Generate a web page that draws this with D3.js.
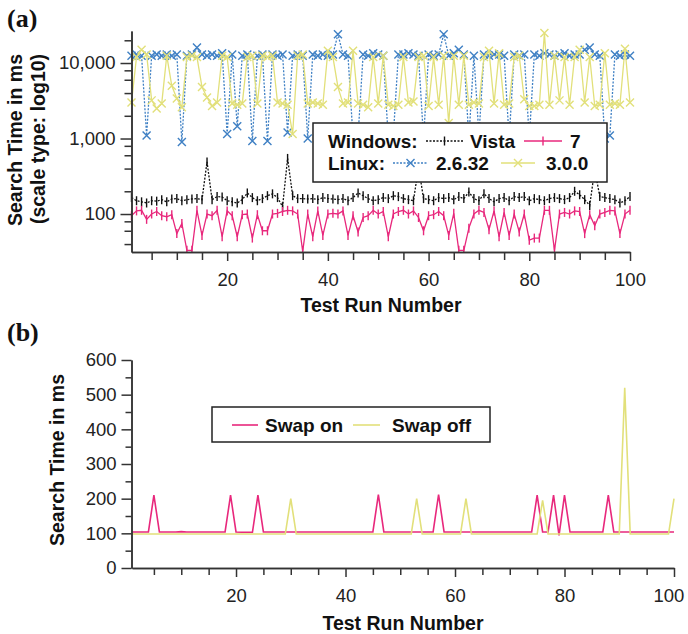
<!DOCTYPE html>
<html>
<head>
<meta charset="utf-8">
<script src="https://cdn.jsdelivr.net/npm/d3@7"></script>
<style>
  body { margin: 0; background: #fff; }
  svg { display: block; font-family: "Liberation Sans", Arial, sans-serif; }
  .axis path, .axis line { stroke: #333; stroke-width: 1.5; }
  .axis text { fill: #222; font-size: 18.5px; font-family: "Liberation Sans", Arial, sans-serif; }
  .title { font-weight: bold; font-size: 19.5px; fill: #111; }
  .leg { font-weight: bold; font-size: 19px; fill: #111; }
  .panel { font-family: "Liberation Serif", "Times New Roman", serif; font-weight: bold; font-size: 26px; fill: #111; }
</style>
</head>
<body>
<script>
// run numbers 1..100
var runs = d3.range(1, 101);

// panel (a): search time in ms, log scale
var vista = [165,150,145,140,150,148,155,145,158,160,
             150,155,158,160,155,490,155,170,168,150,
             145,140,155,190,165,150,160,175,185,165,
             125,545,175,160,160,158,160,155,165,160,
             158,155,160,150,165,190,175,160,150,155,
             165,160,175,170,160,155,150,420,160,155,
             150,165,160,165,155,170,160,195,160,150,
             185,160,145,160,165,150,170,165,170,150,
             160,155,150,160,165,160,155,165,200,180,
             155,130,390,170,165,160,155,140,150,170];
var win7 = [95,110,112,85,100,108,95,92,98,55,
            75,33,33,112,52,100,95,112,50,110,
            95,50,98,100,48,98,60,60,100,102,
            108,112,110,100,32,100,50,110,52,100,
            102,100,110,52,95,58,90,95,112,100,
            108,50,100,108,112,100,110,90,60,95,
            98,108,95,52,102,33,33,65,100,112,
            105,62,110,50,105,52,100,58,100,45,
            48,48,112,112,33,100,105,100,110,108,
            55,98,70,100,105,112,110,55,100,112];
var linux2632 = [12500,13000,12500,1100,12500,13000,12500,13000,12500,13000,
                 900,12500,13000,16000,13000,12500,13000,12500,13500,1150,
                 13000,1450,12500,13000,930,12500,13000,930,13000,12500,
                 13000,1200,12500,13000,12500,1000,13000,12500,13000,12500,
                 13000,24000,13000,12500,1000,1100,13000,12500,13500,13000,
                 12500,1000,1100,13000,13000,13500,13000,12500,1000,13000,
                 12500,13000,24000,12500,13500,15000,13000,1000,12500,1100,
                 13000,12500,13000,13000,12500,1000,13000,12500,13000,1000,
                 13000,12500,13500,13000,12500,13000,13500,12500,13000,13000,
                 15000,16000,13000,12500,1000,1100,13000,12500,13000,12500];
var linux300 = [3000,12000,15000,13000,3200,2500,2900,12500,5000,3400,
                2600,12000,12500,12000,4800,3500,2700,3000,12500,12000,
                2900,2800,2900,12000,12500,2900,12500,12000,12500,3000,
                2900,2800,1150,12500,13000,2900,3000,2900,2800,14500,
                12000,4800,2900,3000,14500,2900,2800,2600,12000,2900,
                12500,2800,2700,2800,12000,3000,3100,12000,12500,2700,
                12000,2800,12500,1600,12500,2800,12500,2800,3000,2900,
                12000,14500,2900,13500,2800,2900,12000,12500,3300,2700,
                2700,2800,25000,2800,12500,3200,12000,2800,12000,15000,
                3000,12000,2700,2800,13500,2800,2900,2800,15500,3000];
var logMajor = [100, 1000, 10000];
var logMinor = [40,60,80,200,400,600,800,2000,4000,6000,8000,20000];

// panel (b): search time in ms, linear
var swapOn = [104,104,104,104,210,104,104,104,104,105,
              104,104,104,104,104,104,104,104,210,104,
              103,103,103,210,104,104,104,104,104,104,
              104,104,104,104,104,104,104,104,104,104,
              104,104,104,104,104,212,104,104,104,104,
              104,104,104,104,104,104,212,104,104,104,
              104,104,104,104,104,104,104,104,104,104,
              104,104,104,104,210,104,104,210,94,210,
              104,104,104,104,104,104,104,210,104,104,
              104,104,104,104,104,104,104,104,104,104];
var swapOff = [98,98,98,98,98,98,98,98,98,98,
               98,98,98,98,98,98,98,98,98,98,
               98,98,98,98,98,98,98,98,98,200,
               98,98,98,98,98,98,98,98,98,98,
               98,98,98,98,98,98,98,98,98,98,
               98,98,200,98,98,98,98,98,98,98,
               98,200,98,98,98,98,98,98,98,98,
               98,98,98,98,98,195,98,98,98,98,
               98,98,98,98,98,98,98,98,98,98,
               520,98,98,98,98,98,98,98,98,200];
var linMajor = [0,100,200,300,400,500,600];
var linMinor = [50,150,250,350,450,550];

var xMajor = [20,40,60,80,100];
var xMinor = [5,10,15,25,30,35,45,50,55,65,70,75,85,90,95];

var PINK = "#e8287c", BLUE = "#3f80c4", YELLOW = "#e2e07a";

var svg = d3.select("body").append("svg").attr("width", 688).attr("height", 634);
svg.append("rect").attr("width", 688).attr("height", 634).attr("fill", "#fff");

// ---------- panel (a) ----------
var xa = d3.scaleLinear().domain([1, 100]).range([131.5, 630]);
var ya = d3.scaleLog().domain([31.4, 26550]).range([252, 31]);

svg.append("clipPath").attr("id", "clipA")
  .append("rect").attr("x", 126).attr("y", 20).attr("width", 520).attr("height", 232);

var ga = svg.append("g").attr("clip-path", "url(#clipA)");

function drawSeries(g, vals, color, dash, marker) {
  var pts = runs.map(function(r, i) { return [xa(r), ya(vals[i])]; });
  g.append("path")
    .attr("d", d3.line()(pts))
    .attr("fill", "none").attr("stroke", color).attr("stroke-width", 1.3)
    .attr("stroke-dasharray", dash);
  g.append("g").selectAll("path").data(pts).enter().append("path")
    .attr("transform", function(d) { return "translate(" + d[0] + "," + d[1] + ")"; })
    .attr("d", marker)
    .attr("fill", "none").attr("stroke", color).attr("stroke-width", 1.4);
}
var TICK = "M0,-4.5L0,4.5";
var CROSS = "M-4,-4L4,4M-4,4L4,-4";

drawSeries(ga, vista, "#111", "2,1.5", TICK);
drawSeries(ga, win7, PINK, null, TICK);
drawSeries(ga, linux2632, BLUE, "2,1.5", CROSS);
drawSeries(ga, linux300, YELLOW, null, CROSS);

// axes (a)
svg.append("g").attr("class", "axis").attr("transform", "translate(131.5,0)")
  .call(d3.axisLeft(ya).tickValues(logMajor).tickFormat(d3.format(",")).tickSize(11).tickSizeOuter(0).tickPadding(5));
svg.append("g").attr("class", "axis").attr("transform", "translate(131.5,0)")
  .call(d3.axisLeft(ya).tickValues(logMinor).tickFormat("").tickSize(7).tickSizeOuter(0));
svg.append("g").attr("class", "axis").attr("transform", "translate(0,252)")
  .call(d3.axisBottom(xa).tickValues(xMajor).tickSize(9).tickSizeOuter(0).tickPadding(12));
svg.append("g").attr("class", "axis").attr("transform", "translate(0,252)")
  .call(d3.axisBottom(xa).tickValues(xMinor).tickFormat("").tickSize(8).tickSizeOuter(0));

svg.append("text").attr("class", "title").attr("x", 381).attr("y", 312)
  .attr("text-anchor", "middle").text("Test Run Number");
svg.append("text").attr("class", "title").attr("text-anchor", "middle")
  .attr("transform", "translate(22,140) rotate(-90)").text("Search Time in ms");
svg.append("text").attr("class", "title").attr("text-anchor", "middle")
  .attr("transform", "translate(45,139) rotate(-90)").text("(scale type: log10)");
svg.append("text").attr("class", "panel").attr("x", 7).attr("y", 27).text("(a)");

// legend (a)
var la = svg.append("g");
la.append("rect").attr("x", 313).attr("y", 123).attr("width", 294).attr("height", 59)
  .attr("fill", "#fff").attr("stroke", "#222").attr("stroke-width", 1.5);
la.append("text").attr("class", "leg").attr("x", 328).attr("y", 148).text("Windows:");
la.append("text").attr("class", "leg").attr("x", 470).attr("y", 148).text("Vista");
la.append("text").attr("class", "leg").attr("x", 570).attr("y", 148).text("7");
la.append("text").attr("class", "leg").attr("x", 328).attr("y", 170).text("Linux:");
la.append("text").attr("class", "leg").attr("x", 436).attr("y", 170).text("2.6.32");
la.append("text").attr("class", "leg").attr("x", 546).attr("y", 170).text("3.0.0");
function legSample(g, x0, x1, y, color, dash, marker) {
  g.append("line").attr("x1", x0).attr("x2", x1).attr("y1", y).attr("y2", y)
    .attr("stroke", color).attr("stroke-width", 1.3).attr("stroke-dasharray", dash);
  g.append("path").attr("transform", "translate(" + ((x0 + x1) / 2) + "," + y + ")")
    .attr("d", marker).attr("fill", "none").attr("stroke", color).attr("stroke-width", 1.4);
}
legSample(la, 426, 463, 141, "#111", "2,1.5", TICK);
legSample(la, 524, 562, 141, PINK, null, TICK);
legSample(la, 393, 428, 163, BLUE, "2,1.5", CROSS);
legSample(la, 501, 535, 163, YELLOW, null, CROSS);

// ---------- panel (b) ----------
var xb = d3.scaleLinear().domain([1, 100]).range([132, 674]);
var yb = d3.scaleLinear().domain([0, 600]).range([568, 360]);

var lineB = d3.line().x(function(d) { return xb(d[0]); }).y(function(d) { return yb(d[1]); });
svg.append("path").attr("d", lineB(runs.map(function(r, i) { return [r, swapOn[i]]; })))
  .attr("fill", "none").attr("stroke", PINK).attr("stroke-width", 1.6);
svg.append("path").attr("d", lineB(runs.map(function(r, i) { return [r, swapOff[i]]; })))
  .attr("fill", "none").attr("stroke", YELLOW).attr("stroke-width", 1.6);

svg.append("g").attr("class", "axis").attr("transform", "translate(131.5,0)")
  .call(d3.axisLeft(yb).tickValues(linMajor).tickSize(10).tickSizeOuter(0).tickPadding(5));
svg.append("g").attr("class", "axis").attr("transform", "translate(131.5,0)")
  .call(d3.axisLeft(yb).tickValues(linMinor).tickFormat("").tickSize(6).tickSizeOuter(0));
var xbAxis = svg.append("g").attr("class", "axis").attr("transform", "translate(0,568)")
  .call(d3.axisBottom(xb).tickValues(xMajor).tickSize(9).tickSizeOuter(0).tickPadding(12));
// keep the last label inside the page edge
xbAxis.selectAll(".tick text").filter(function(d) { return d === 100; }).attr("dx", "-0.3em");
svg.append("g").attr("class", "axis").attr("transform", "translate(0,568)")
  .call(d3.axisBottom(xb).tickValues(xMinor).tickFormat("").tickSize(7).tickSizeOuter(0));

svg.append("text").attr("class", "title").attr("x", 403).attr("y", 630)
  .attr("text-anchor", "middle").text("Test Run Number");
svg.append("text").attr("class", "title").attr("text-anchor", "middle")
  .attr("transform", "translate(64,460) rotate(-90)").text("Search Time in ms");
svg.append("text").attr("class", "panel").attr("x", 7).attr("y", 341).text("(b)");

// legend (b)
var lb = svg.append("g");
lb.append("rect").attr("x", 212).attr("y", 407).attr("width", 278).attr("height", 35)
  .attr("fill", "#fff").attr("stroke", "#222").attr("stroke-width", 1.5);
lb.append("line").attr("x1", 232).attr("x2", 258).attr("y1", 425).attr("y2", 425)
  .attr("stroke", PINK).attr("stroke-width", 1.6);
lb.append("text").attr("class", "leg").attr("x", 265).attr("y", 432).text("Swap on");
lb.append("line").attr("x1", 353).attr("x2", 380).attr("y1", 425).attr("y2", 425)
  .attr("stroke", YELLOW).attr("stroke-width", 1.6);
lb.append("text").attr("class", "leg").attr("x", 392).attr("y", 432).text("Swap off");
</script>
</body>
</html>
